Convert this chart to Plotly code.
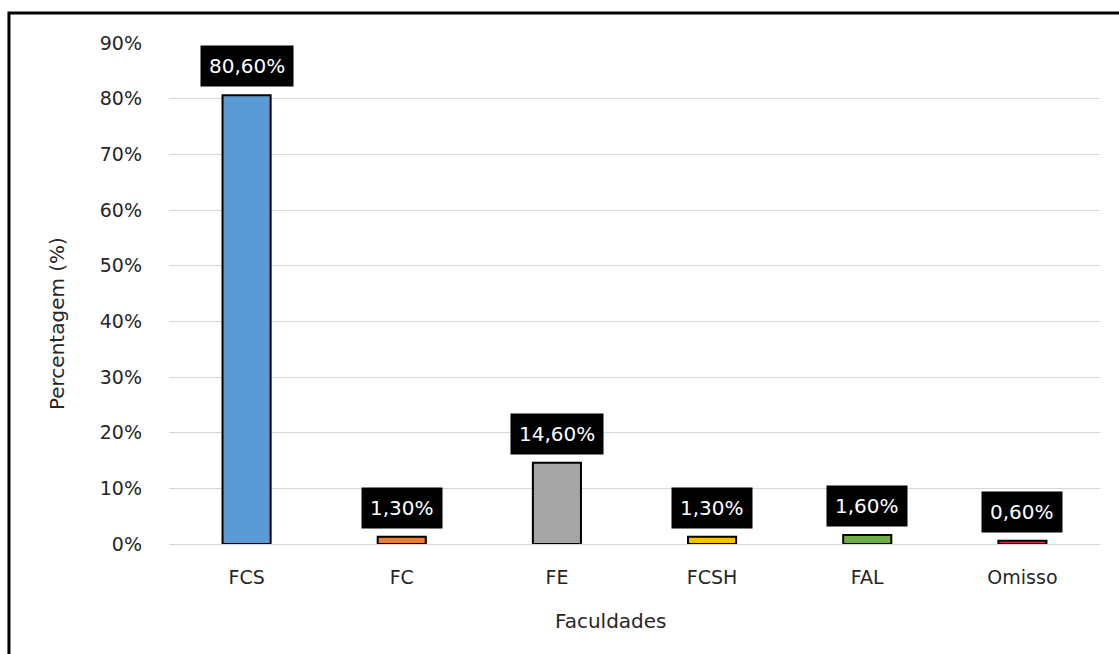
import plotly.graph_objects as go

# Distribuição por faculdade
faculdades = ["FCS", "FC", "FE", "FCSH", "FAL", "Omisso"]
percentagens = [80.6, 1.3, 14.6, 1.3, 1.6, 0.6]
cores = ["#5B9BD5", "#ED7D31", "#A5A5A5", "#FFC000", "#70AD47", "#E8302A"]
y_ticks = [0, 10, 20, 30, 40, 50, 60, 70, 80, 90]
y_tick_text = [f"{v}%" for v in y_ticks]

FONT = "'DejaVu Sans', sans-serif"
TXT = "#262626"

fig = go.Figure()
fig.add_trace(go.Bar(
    x=faculdades,
    y=percentagens,
    marker=dict(color=cores, line=dict(color="black", width=2)),
    width=0.31,
    showlegend=False,
    hoverinfo="x+y",
))

# Rótulos de valor em caixas pretas acima das barras
for cat, val in zip(faculdades, percentagens):
    fig.add_annotation(
        x=cat, y=val, xref="x", yref="y",
        text=f"{val:.2f}%".replace(".", ","),
        showarrow=False,
        yanchor="bottom", yshift=8,
        font=dict(family=FONT, size=20, color="white"),
        bgcolor="black", borderpad=8,
    )

# Títulos dos eixos
fig.add_annotation(
    x=-0.1203, y=0.439, xref="paper", yref="paper",
    text="Percentagem (%)", textangle=-90, showarrow=False,
    xanchor="center", yanchor="middle",
    font=dict(family=FONT, size=20, color=TXT),
)
fig.add_annotation(
    x=0.4748, y=-0.1537, xref="paper", yref="paper",
    text="Faculdades", showarrow=False,
    xanchor="center", yanchor="middle",
    font=dict(family=FONT, size=20, color=TXT),
)

# Moldura exterior do gráfico
fig.add_shape(
    type="rect", xref="paper", yref="paper",
    x0=-0.1719, x1=1.06, y0=-0.35, y1=1.0599,
    line=dict(color="black", width=3), fillcolor="rgba(0,0,0,0)",
    layer="below",
)

fig.update_layout(
    width=1119, height=654,
    margin=dict(l=169, r=19, t=43, b=110),
    paper_bgcolor="white", plot_bgcolor="white",
    font=dict(family=FONT, size=19, color=TXT),
    xaxis=dict(
        showgrid=False, showline=False, zeroline=False, ticks="",
        ticklabelstandoff=20,
        tickfont=dict(size=19, color=TXT),
    ),
    yaxis=dict(
        range=[0, 90], tickvals=y_ticks, ticktext=y_tick_text,
        showgrid=True, gridcolor="#D6D6D6", gridwidth=1,
        zeroline=True, zerolinecolor="#D6D6D6", zerolinewidth=1,
        showline=False, ticks="", ticklabelstandoff=26,
        tickfont=dict(size=19, color=TXT),
    ),
)

fig.write_html("out.html")
